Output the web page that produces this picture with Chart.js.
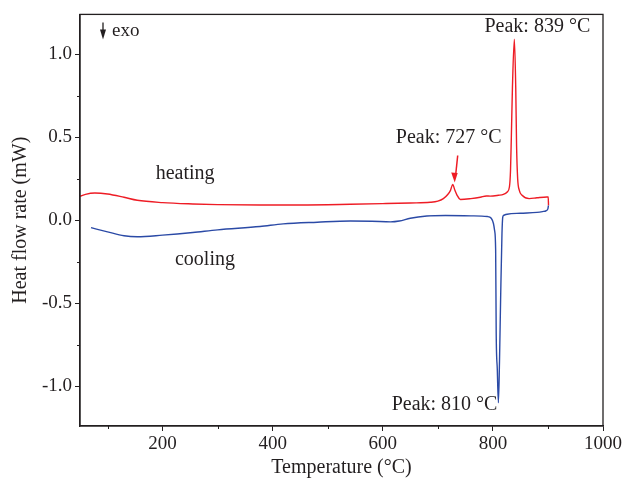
<!DOCTYPE html>
<html>
<head>
<meta charset="utf-8">
<script src="https://cdn.jsdelivr.net/npm/chart.js@4.4.1/dist/chart.umd.min.js"></script>
<style>
  html, body { margin: 0; padding: 0; background: #fff; }
  #wrap { width: 624px; height: 482px; }
</style>
</head>
<body>
<div id="wrap"><canvas id="dsc"></canvas></div>
<script>
// DSC scan, heat flow vs temperature
const heatingTemp = [50, 60, 77, 100, 130, 154, 200, 255, 300, 377, 450, 541, 600, 650, 686, 700, 710, 718, 723, 727, 731, 735, 741, 760, 777, 788, 795, 810, 819, 826, 830, 832, 833.5, 835.5, 839, 841.5, 843, 845, 848, 853, 866, 880, 898, 900.5, 901];
const heatingFlow = [0.144, 0.156, 0.164, 0.158, 0.138, 0.12, 0.106, 0.098, 0.094, 0.092, 0.092, 0.096, 0.1, 0.104, 0.108, 0.115, 0.13, 0.155, 0.18, 0.215, 0.18, 0.15, 0.125, 0.13, 0.138, 0.146, 0.145, 0.15, 0.155, 0.17, 0.2, 0.3, 0.5, 0.8, 1.09, 0.8, 0.45, 0.25, 0.18, 0.15, 0.13, 0.135, 0.14, 0.14, 0.09];

const coolingTemp = [901, 900, 897, 890, 880, 850, 826, 820, 818, 816.5, 814, 812, 810, 808, 806, 805, 803, 801, 797, 790, 760, 714, 680, 650, 630, 614, 580, 541, 481, 419, 377, 300, 255, 200, 154, 130, 100, 70];
const coolingFlow = [0.09, 0.07, 0.058, 0.052, 0.047, 0.042, 0.036, 0.03, 0.02, -0.08, -0.48, -0.85, -1.1, -0.9, -0.68, -0.18, -0.06, -0.02, 0.012, 0.022, 0.026, 0.028, 0.025, 0.012, -0.005, -0.01, -0.006, -0.005, -0.012, -0.022, -0.038, -0.058, -0.074, -0.09, -0.1, -0.094, -0.07, -0.045];

const xTicks = [200, 400, 600, 800, 1000];
const xMinorTicks = [100, 300, 500, 700, 900];
const yTicks = [-1.0, -0.5, 0.0, 0.5, 1.0];
const yMinorTicks = [-0.75, -0.25, 0.25, 0.75];

// peak temperature, heat flow at the peak
const peakTemps = [727, 839, 810];
const peakFlows = [0.215, 1.09, -1.1];

const serif = "'Liberation Serif', 'DejaVu Serif', serif";
const ink = '#231f20';
const red = '#ee1c25';
const blue = '#2b4aa6';

const toPoints = (xs, ys) => xs.map((x, i) => ({x: x, y: ys[i]}));

const keepTicks = (list) => (scale) => {
    scale.ticks = list.map(v => ({value: v}));
};

// frame, minor ticks and text notes
const notesPlugin = {
    id: 'notes',
    afterDraw(chart) {
        const ctx = chart.ctx;
        const area = chart.chartArea;
        const xs = chart.scales.x;
        const ys = chart.scales.y;
        ctx.save();

        ctx.strokeStyle = ink;
        ctx.lineWidth = 1.3;
        ctx.strokeRect(area.left, area.top, area.right - area.left, area.bottom - area.top);

        ctx.lineWidth = 1;
        ctx.beginPath();
        xMinorTicks.forEach(v => {
            let px = Math.round(xs.getPixelForValue(v)) + 0.5;
            ctx.moveTo(px, area.bottom);
            ctx.lineTo(px, area.bottom + 3);
        });
        yMinorTicks.forEach(v => {
            let py = Math.round(ys.getPixelForValue(v)) + 0.5;
            ctx.moveTo(area.left, py);
            ctx.lineTo(area.left - 3, py);
        });
        ctx.stroke();

        ctx.fillStyle = ink;
        ctx.font = '20px ' + serif;
        ctx.textBaseline = 'middle';

        // curve names
        ctx.textAlign = 'center';
        ctx.fillText('heating', xs.getPixelForValue(241), ys.getPixelForValue(0.28));
        ctx.fillText('cooling', xs.getPixelForValue(277), ys.getPixelForValue(-0.24));

        // peak notes
        const px = peakTemps.map(t => xs.getPixelForValue(t));
        const py = peakFlows.map(q => ys.getPixelForValue(q));
        ctx.textAlign = 'center';
        ctx.fillText('Peak: ' + peakTemps[0] + ' °C', px[0] - 4, py[0] - 47);
        ctx.fillText('Peak: ' + peakTemps[1] + ' °C', px[1] + 23, py[1] - 13);
        ctx.textAlign = 'right';
        ctx.fillText('Peak: ' + peakTemps[2] + ' °C', px[2] - 1, py[2] + 2);

        // arrow onto the small peak
        ctx.strokeStyle = red;
        ctx.fillStyle = red;
        ctx.lineWidth = 1.5;
        ctx.beginPath();
        ctx.moveTo(px[0] + 5, py[0] - 29);
        ctx.lineTo(px[0] + 3, py[0] - 10);
        ctx.stroke();
        ctx.beginPath();
        ctx.moveTo(px[0] + 2, py[0] - 2);
        ctx.lineTo(px[0] - 1.5, py[0] - 12);
        ctx.lineTo(px[0] + 5, py[0] - 11.5);
        ctx.closePath();
        ctx.fill();

        // exo direction marker
        ctx.strokeStyle = ink;
        ctx.fillStyle = ink;
        ctx.lineWidth = 1.3;
        let ax = area.left + 23;
        ctx.beginPath();
        ctx.moveTo(ax, area.top + 8);
        ctx.lineTo(ax, area.top + 18);
        ctx.stroke();
        ctx.beginPath();
        ctx.moveTo(ax, area.top + 25);
        ctx.lineTo(ax - 3, area.top + 15);
        ctx.lineTo(ax + 3, area.top + 15);
        ctx.closePath();
        ctx.fill();
        ctx.textAlign = 'left';
        ctx.font = '19px ' + serif;
        ctx.fillText('exo', ax + 9, area.top + 17);

        ctx.restore();
    }
};

const buildChart = () => {
    let chart = new Chart(document.getElementById('dsc'), {
        type: 'line',
        data: {
            datasets: [{
                label: 'heating',
                data: toPoints(heatingTemp, heatingFlow),
                borderColor: red,
                borderWidth: 1.4,
                pointRadius: 0,
                cubicInterpolationMode: 'monotone'
            }, {
                label: 'cooling',
                data: toPoints(coolingTemp, coolingFlow),
                borderColor: blue,
                borderWidth: 1.4,
                pointRadius: 0,
                cubicInterpolationMode: 'monotone'
            }]
        },
        plugins: [notesPlugin],
        options: {
            responsive: true,
            maintainAspectRatio: false,
            animation: false,
            layout: { padding: { top: 13, right: 21, left: 0, bottom: 0 } },
            plugins: {
                legend: { display: false },
                tooltip: { enabled: false }
            },
            scales: {
                x: {
                    type: 'linear',
                    min: 50,
                    max: 1000,
                    afterBuildTicks: keepTicks(xTicks),
                    afterFit: (scale) => { scale.height = 56; },
                    grid: { drawOnChartArea: false, tickLength: 5, color: ink, lineWidth: 1 },
                    border: { color: ink, width: 1.3 },
                    ticks: {
                        color: ink,
                        padding: 2,
                        maxRotation: 0,
                        font: { family: serif, size: 19 },
                        callback: (v) => String(v)
                    },
                    title: {
                        display: true,
                        text: 'Temperature (°C)',
                        color: ink,
                        font: { family: serif, size: 20 },
                        padding: { top: 0, bottom: 2 }
                    }
                },
                y: {
                    type: 'linear',
                    min: -1.24,
                    max: 1.24,
                    afterBuildTicks: keepTicks(yTicks),
                    afterFit: (scale) => { scale.width = 80; },
                    grid: { drawOnChartArea: false, tickLength: 5, color: ink, lineWidth: 1 },
                    border: { color: ink, width: 1.3 },
                    ticks: {
                        color: ink,
                        padding: 3,
                        font: { family: serif, size: 19 },
                        callback: (v) => v.toFixed(1)
                    },
                    title: {
                        display: true,
                        text: 'Heat flow rate (mW)',
                        color: ink,
                        font: { family: serif, size: 20 },
                        padding: { top: 9, bottom: 0 }
                    }
                }
            }
        }
    });
    return chart;
};

document.addEventListener('DOMContentLoaded', function () {
    buildChart();
});
</script>
</body>
</html>
